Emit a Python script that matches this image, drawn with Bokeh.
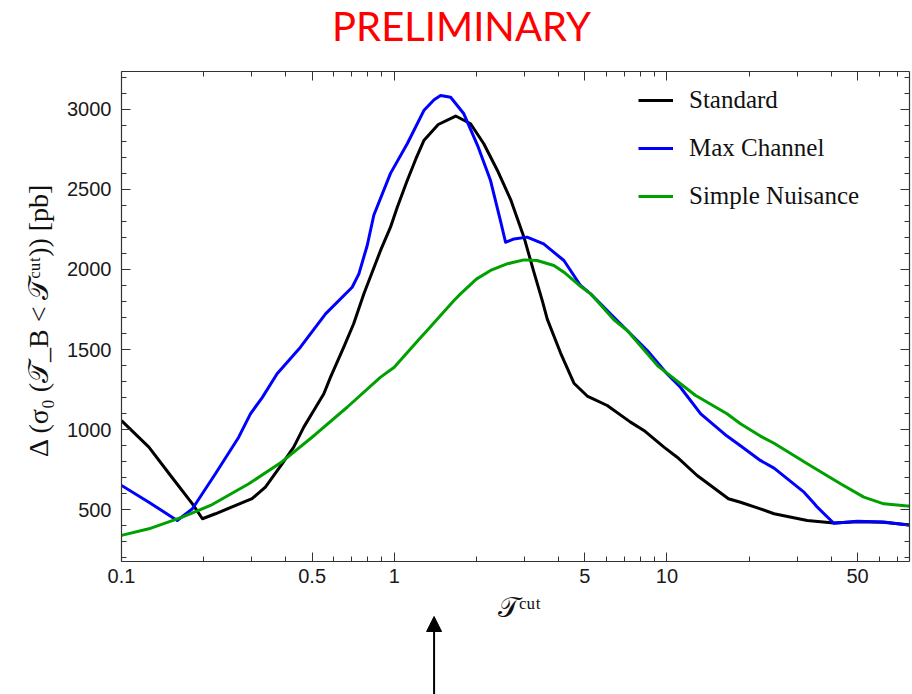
from bokeh.plotting import figure
from bokeh.layouts import column
from bokeh.models import (Range1d, FixedTicker, LinearAxis, LogAxis, Legend, LegendItem,
                          Arrow, NormalHead, NumeralTickFormatter, CustomJSTickFormatter, Label)
from bokeh.embed import file_html
from bokeh.resources import INLINE

# ---- data ----
x_std = [0.100, 0.126, 0.153, 0.182, 0.198, 0.221, 0.301, 0.337, 0.388, 0.428,
         0.466, 0.507, 0.552, 0.584, 0.653, 0.710, 0.774, 0.891, 0.969, 1.026,
         1.116, 1.20, 1.284, 1.45, 1.68, 1.905, 2.13, 2.39, 2.68, 2.99,
         3.25, 3.49, 3.64, 4.07, 4.56, 5.10, 6.04, 7.35, 8.23, 9.75,
         10.9, 12.9, 14.5, 16.8, 18.6, 22.0, 24.7, 32.7, 40.9, 50.0,
         62.0, 79.0]
y_std = [1057, 891, 703, 537, 444, 475, 569, 641, 787, 891,
         1016, 1120, 1224, 1328, 1515, 1661, 1848, 2119, 2264, 2389,
         2555, 2690, 2805, 2905, 2958, 2910, 2785, 2618, 2431, 2202,
         1985, 1806, 1690, 1480, 1290, 1210, 1151, 1047, 995, 891,
         828, 714, 650, 569, 547, 506, 475, 433, 418, 425,
         422, 403]

x_max = [0.100, 0.126, 0.160, 0.182, 0.221, 0.269, 0.297, 0.328, 0.372, 0.453,
         0.56, 0.701, 0.742, 0.796, 0.842, 0.969, 1.116, 1.284, 1.40, 1.479,
         1.61, 1.80, 2.02, 2.255, 2.45, 2.56, 2.75, 3.07, 3.53, 4.19,
         4.82, 5.25, 6.39, 7.15, 8.47, 10.0, 11.2, 13.3, 16.6, 18.6,
         22.0, 24.7, 31.8, 34.6, 35.6, 40.9, 49.9, 62.4, 79.0]
y_max = [652, 547, 433, 506, 725, 953, 1099, 1200, 1349, 1515,
         1723, 1889, 1973, 2150, 2340, 2600, 2785, 2992, 3060, 3086,
         3075, 2972, 2775, 2555, 2306, 2170, 2191, 2202, 2160, 2056,
         1900, 1848, 1702, 1619, 1494, 1349, 1265, 1099, 960, 900,
         808, 760, 610, 540, 516, 416, 429, 423, 402]

x_sn = [0.100, 0.126, 0.167, 0.212, 0.293, 0.388, 0.514, 0.672, 0.891, 1.0,
        1.25, 1.32, 1.656, 1.75, 2.0, 2.255, 2.59, 2.99, 3.34, 3.85,
        4.19, 4.82, 5.25, 6.39, 7.15, 9.3, 12.7, 16.6, 18.6, 22.0,
        24.7, 32.7, 43.3, 52.7, 62.4, 79.0]
y_sn = [340, 381, 454, 527, 662, 800, 970, 1140, 1328, 1390,
        1575, 1619, 1806, 1848, 1940, 1994, 2035, 2060, 2056, 2025,
        1983, 1895, 1848, 1686, 1619, 1395, 1215, 1099, 1037, 960,
        915, 787, 662, 579, 537, 521]

series_names = ["Standard", "Max Channel", "Simple Nuisance"]
series_colors = ["#000000", "#0000FF", "#00A000"]

x_major = [0.1, 0.5, 1, 5, 10, 50]
x_minor = [0.2, 0.3, 0.4, 0.6, 0.7, 0.8, 0.9, 2, 3, 4, 6, 7, 8, 9,
           20, 30, 40, 60, 70]
y_major = [500, 1000, 1500, 2000, 2500, 3000]
y_minor = [200, 300, 400, 600, 700, 800, 900, 1100, 1200, 1300, 1400,
           1600, 1700, 1800, 1900, 2100, 2200, 2300, 2400, 2600, 2700,
           2800, 2900, 3100, 3200]
arrow_x = 1.4

title_text = "PRELIMINARY"
x_label = "𝒯ᶜᵘᵗ"
y_label = "Δ (σ₀ (𝒯_B < 𝒯ᶜᵘᵗ))  [pb]"

AX = "#333333"
TICK_FONT = "Liberation Sans"
W = 912
H_TOP = 60
H_LOW = 102
H_MAIN = 694 - H_TOP - H_LOW
BL, BR = 121, 3
FRAME_TOP, FRAME_BOTTOM = 71, 561


def blank_strip(h, x_range, x_axis_type="linear"):
    f = figure(width=W, height=h, x_axis_type=x_axis_type, x_range=x_range,
               y_range=Range1d(0, h), output_backend="svg", toolbar_location=None,
               x_axis_location=None, y_axis_location=None,
               min_border_left=BL, min_border_right=BR,
               min_border_top=0, min_border_bottom=0)
    f.background_fill_color = "white"
    f.border_fill_color = "white"
    f.outline_line_color = None
    f.xgrid.visible = False
    f.ygrid.visible = False
    return f


# ---- top strip: title (strip data units = canvas pixels) ----
p0 = blank_strip(H_TOP, Range1d(BL, W - BR))
p0.add_layout(Label(x=461, y=H_TOP - 25, text=title_text, text_color="#FF0000",
                    text_font="Lato", text_font_size="40px",
                    text_align="center", text_baseline="middle"))

# ---- main chart ----
xr = Range1d(0.1, 77.5)
p = figure(width=W, height=H_MAIN, x_axis_type="log",
           x_range=xr, y_range=Range1d(177, 3236),
           output_backend="svg", toolbar_location=None,
           min_border_left=BL, min_border_right=BR,
           min_border_top=FRAME_TOP - H_TOP,
           min_border_bottom=H_TOP + H_MAIN - FRAME_BOTTOM)
p.background_fill_color = "white"
p.border_fill_color = "white"
p.outline_line_color = None
p.xgrid.visible = False
p.ygrid.visible = False


def style_axis(ax, labels=True):
    ax.axis_line_color = AX
    ax.axis_line_width = 1.2
    ax.major_tick_line_color = AX
    ax.minor_tick_line_color = AX
    ax.major_tick_in = 9
    ax.major_tick_out = 0
    ax.minor_tick_in = 5
    ax.minor_tick_out = 0
    if labels:
        ax.major_label_text_font = TICK_FONT
        ax.major_label_text_font_size = "20px"
        ax.major_label_text_color = "#1a1a1a"
    else:
        ax.formatter = CustomJSTickFormatter(code="return ''")
        ax.major_label_standoff = 0
        ax.axis_label = None


xa = p.xaxis[0]
xa.ticker = FixedTicker(ticks=x_major, minor_ticks=x_minor)
xa.formatter = NumeralTickFormatter(format="0.[0]")
style_axis(xa)
xa.major_label_standoff = 7

ya = p.yaxis[0]
ya.ticker = FixedTicker(ticks=y_major, minor_ticks=y_minor)
style_axis(ya)
ya.major_label_standoff = 10
ya.axis_label = y_label
ya.axis_label_text_font = "Liberation Serif"
ya.axis_label_text_font_size = "28px"
ya.axis_label_text_font_style = "normal"
ya.axis_label_text_color = "#111111"
ya.axis_label_standoff = 10

top = LogAxis(ticker=FixedTicker(ticks=x_major, minor_ticks=x_minor))
style_axis(top, labels=False)
p.add_layout(top, "above")

right = LinearAxis(ticker=FixedTicker(ticks=y_major, minor_ticks=y_minor))
style_axis(right, labels=False)
p.add_layout(right, "right")

renderers = []
for xs, ys, c in zip([x_std, x_max, x_sn], [y_std, y_max, y_sn], series_colors):
    r = p.line(xs, ys, line_color=c, line_width=3, line_join="round")
    renderers.append(r)

legend = Legend(items=[LegendItem(label=n, renderers=[r]) for n, r in zip(series_names, renderers)],
                location=(517, 350))
legend.border_line_color = None
legend.background_fill_alpha = 0
legend.padding = 0
legend.margin = 0
legend.spacing = 18
legend.label_height = 30
legend.glyph_height = 30
legend.glyph_width = 35
legend.label_standoff = 16
legend.label_text_font = "Liberation Serif"
legend.label_text_font_size = "25px"
legend.label_text_color = "#111111"
p.add_layout(legend)

# ---- lower strip: x-axis title and the arrow ----
p2 = blank_strip(H_LOW, xr, x_axis_type="log")
p2.add_layout(Label(x=398, y=87, x_units="screen", y_units="data", text=x_label,
                    text_font="Liberation Serif", text_font_size="28px", text_color="#111111",
                    text_align="center", text_baseline="middle"))
p2.add_layout(Arrow(end=NormalHead(size=15, fill_color="black", line_color="black"),
                    x_start=arrow_x, y_start=-5, x_end=arrow_x, y_end=78,
                    line_color="black", line_width=2))

layout = column(p0, p, p2, spacing=0)
open("out.html", "w").write(file_html(layout, INLINE))
